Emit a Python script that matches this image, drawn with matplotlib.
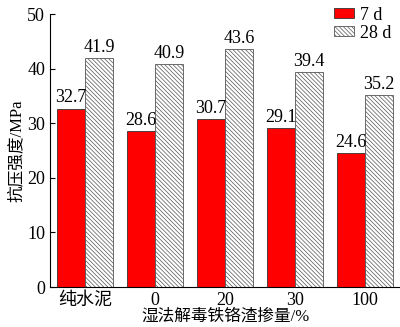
import matplotlib.pyplot as plt
import numpy as np

plt.rcParams['font.family'] = ['Liberation Serif', 'Noto Sans CJK SC']
plt.rcParams['hatch.linewidth'] = 0.5

categories = ['纯水泥', '0', '20', '30', '100']
d7 = [32.7, 28.6, 30.7, 29.1, 24.6]
d28 = [41.9, 40.9, 43.6, 39.4, 35.2]

fig = plt.figure(figsize=(4, 3.27), dpi=100)
ax = fig.add_axes([0.125, 0.122, 0.875, 0.835])

x = np.arange(len(categories))
w = 0.4
b1 = ax.bar(x - w / 2, d7, w, color='#ff0000', edgecolor='#333333', linewidth=0.6, label='7 d')
b2 = ax.bar(x + w / 2, d28, w, color='white', edgecolor='#555555', linewidth=0.6,
            hatch='\\' * 8, label='28 d')

for b, v in zip(b1, d7):
    ax.text(b.get_x() + b.get_width() / 2, v + 0.4, f'{v:.1f}', ha='center', va='bottom', fontsize=13)
for b, v in zip(b2, d28):
    ax.text(b.get_x() + b.get_width() / 2, v + 0.4, f'{v:.1f}', ha='center', va='bottom', fontsize=13)

ax.set_xlim(-0.5, 4.5)
ax.set_ylim(0, 50)
ax.set_yticks([0, 10, 20, 30, 40, 50])
ax.set_xticks(x)
ax.set_xticklabels(categories)
ax.tick_params(axis='both', labelsize=13, direction='in')
ax.tick_params(axis='x', length=0)
ax.spines['top'].set_visible(False)
ax.spines['right'].set_visible(False)
ax.set_ylabel('抗压强度/MPa', fontsize=12, labelpad=2)
ax.set_xlabel('湿法解毒铁铬渣掺量/%', fontsize=12, labelpad=0)

ax.legend(loc='upper right', bbox_to_anchor=(1.0, 1.06), frameon=False, fontsize=13,
          handlelength=1.1, handleheight=0.5, handletextpad=0.3, labelspacing=0.05, borderpad=0)

fig.savefig('out.png', dpi=100)
